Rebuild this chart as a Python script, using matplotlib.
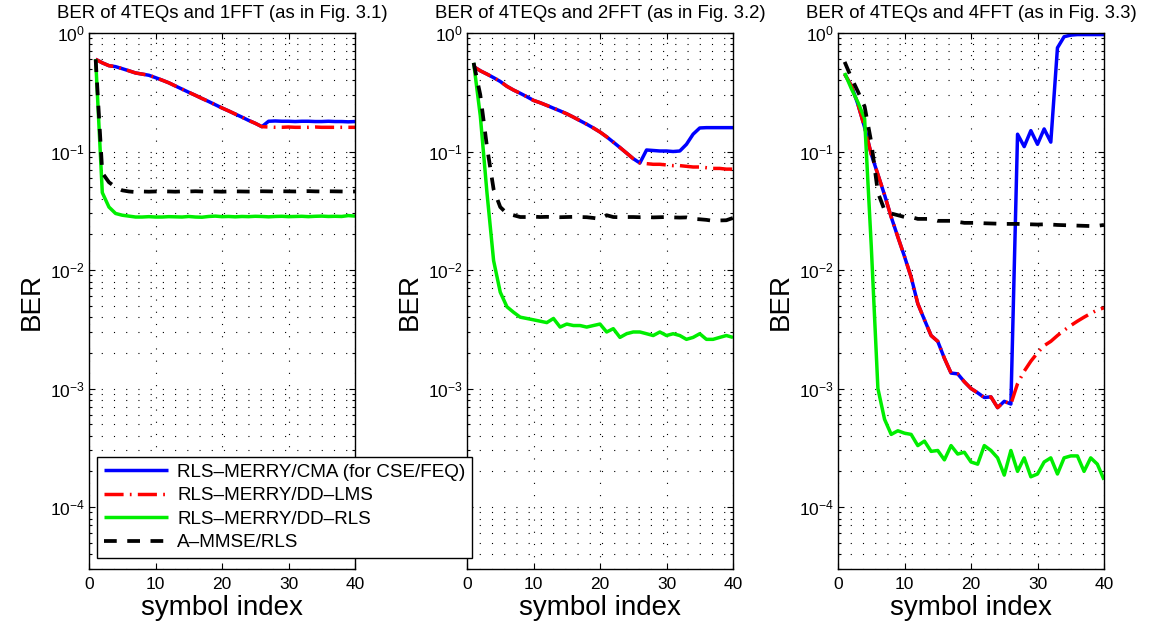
import matplotlib
matplotlib.use("Agg")
import matplotlib.pyplot as plt
import numpy as np
from matplotlib.lines import Line2D
from matplotlib.ticker import LogLocator, NullFormatter, FixedLocator

plt.rcParams["font.family"] = ["Liberation Sans", "DejaVu Sans"]

symbols = np.arange(1, 41)

titles = [
    "BER of 4TEQs and 1FFT (as in Fig. 3.1)",
    "BER of 4TEQs and 2FFT (as in Fig. 3.2)",
    "BER of 4TEQs and 4FFT (as in Fig. 3.3)",
]
labels = [
    "RLS\u2013MERRY/CMA (for CSE/FEQ)",
    "RLS\u2013MERRY/DD\u2013LMS",
    "RLS\u2013MERRY/DD\u2013RLS",
    "A\u2013MMSE/RLS",
]

# ---- panel 1 : 1FFT ----
shared1 = [0.60, 0.56, 0.53, 0.52, 0.50, 0.48, 0.46, 0.45, 0.44, 0.42,
           0.40, 0.38, 0.357, 0.336, 0.316, 0.298, 0.28, 0.264, 0.248, 0.233,
           0.22, 0.207, 0.195, 0.183, 0.173, 0.162]
cma1 = shared1 + [0.180, 0.181, 0.180, 0.180, 0.179, 0.180, 0.180, 0.179,
                  0.179, 0.180, 0.179, 0.179, 0.178, 0.179]
lms1 = shared1 + [0.161, 0.160, 0.160, 0.161, 0.160, 0.160, 0.160, 0.161,
                  0.160, 0.160, 0.160, 0.160, 0.160, 0.160]
rls1 = [0.60, 0.045, 0.034, 0.030, 0.029, 0.0285, 0.028, 0.028, 0.0282, 0.028,
        0.028, 0.0282, 0.0281, 0.028, 0.0283, 0.028, 0.0279, 0.0283, 0.0285, 0.0282,
        0.0283, 0.0281, 0.0283, 0.0282, 0.0284, 0.0283, 0.0281, 0.0283, 0.0284, 0.0282,
        0.0283, 0.0284, 0.0282, 0.0284, 0.0285, 0.0283, 0.0284, 0.0283, 0.0288, 0.0285]
mmse1 = [0.60, 0.066, 0.055, 0.050, 0.047, 0.046, 0.0455, 0.046, 0.0458, 0.046,
         0.0462, 0.046, 0.0458, 0.0461, 0.046, 0.0462, 0.046, 0.0459, 0.046, 0.0458,
         0.046, 0.0461, 0.046, 0.0459, 0.046, 0.0462, 0.0461, 0.046, 0.0462, 0.0461,
         0.046, 0.0462, 0.0463, 0.0461, 0.046, 0.0462, 0.0461, 0.046, 0.0459, 0.046]

# ---- panel 2 : 2FFT ----
shared2 = [0.52, 0.48, 0.45, 0.42, 0.39, 0.355, 0.33, 0.31, 0.29, 0.27,
           0.258, 0.245, 0.232, 0.22, 0.208, 0.195, 0.182, 0.17, 0.158, 0.146,
           0.133, 0.12, 0.108, 0.097, 0.087, 0.080]
cma2 = shared2 + [0.103, 0.102, 0.101, 0.101, 0.100, 0.101, 0.115, 0.14,
                  0.158, 0.159, 0.159, 0.159, 0.159, 0.159]
lms2 = shared2 + [0.079, 0.078, 0.078, 0.077, 0.076, 0.076, 0.075, 0.074,
                  0.074, 0.073, 0.072, 0.072, 0.071, 0.071]
rls2 = [0.56, 0.20, 0.045, 0.012, 0.0065, 0.0049, 0.0044, 0.0040, 0.0039, 0.0038,
        0.0037, 0.0036, 0.0039, 0.0033, 0.0035, 0.0034, 0.0034, 0.0033, 0.0034, 0.0035,
        0.0030, 0.0032, 0.0027, 0.0029, 0.0030, 0.0030, 0.0029, 0.0028, 0.0030, 0.0028,
        0.0029, 0.0028, 0.0026, 0.0027, 0.0029, 0.0026, 0.0026, 0.0027, 0.0028, 0.0027]
mmse2 = [0.56, 0.30, 0.11, 0.048, 0.034, 0.030, 0.029, 0.028, 0.028, 0.0282,
         0.028, 0.0281, 0.028, 0.0279, 0.028, 0.0281, 0.028, 0.0279, 0.0275, 0.027,
         0.029, 0.028, 0.0279, 0.028, 0.028, 0.0279, 0.028, 0.0278, 0.0279, 0.028,
         0.0278, 0.0277, 0.0278, 0.027, 0.0268, 0.0265, 0.026, 0.0262, 0.0263, 0.0275]

# ---- panel 3 : 4FFT ----
shared3 = [0.45, 0.36, 0.25, 0.16, 0.095, 0.064, 0.043, 0.028, 0.019, 0.013,
           0.0087, 0.0052, 0.0038, 0.0028, 0.0025, 0.0018, 0.00135, 0.00133, 0.00114, 0.0010,
           0.00092, 0.00084, 0.00085, 0.00069, 0.00078, 0.00074]
cma3 = shared3 + [0.14, 0.11, 0.15, 0.115, 0.155, 0.12, 0.75, 0.93,
                  0.96, 0.97, 0.97, 0.97, 0.97, 0.97]
lms3 = shared3 + [0.0011, 0.0014, 0.0017, 0.0020, 0.0023, 0.0025, 0.0028, 0.0031,
                  0.0034, 0.0037, 0.0040, 0.0043, 0.0046, 0.0048]
rls3 = [0.46, 0.34, 0.26, 0.19, 0.016, 0.0010, 0.00055, 0.00041, 0.00044, 0.00042,
        0.00041, 0.00033, 0.00036, 0.000295, 0.00030, 0.00025, 0.00033, 0.00028, 0.00029, 0.00024,
        0.00023, 0.00033, 0.00030, 0.00026, 0.000186, 0.00030, 0.00020, 0.00026, 0.00018, 0.00019,
        0.00024, 0.00026, 0.00019, 0.00026, 0.00027, 0.00027, 0.00020, 0.00026, 0.00023, 0.00017]
mmse3 = [0.57, 0.42, 0.32, 0.24, 0.12, 0.045, 0.032, 0.030, 0.029, 0.028,
         0.028, 0.027, 0.027, 0.027, 0.026, 0.026, 0.026, 0.0255, 0.025, 0.025,
         0.025, 0.0248, 0.0247, 0.0246, 0.0245, 0.0245, 0.0245, 0.0244, 0.0243, 0.0242,
         0.0243, 0.0242, 0.024, 0.0239, 0.0238, 0.0237, 0.0236, 0.0235, 0.0236, 0.024]

panels = [
    (cma1, lms1, rls1, mmse1),
    (cma2, lms2, rls2, mmse2),
    (cma3, lms3, rls3, mmse3),
]

W, H = 1149, 635
fig = plt.figure(figsize=(W / 100, H / 100), dpi=100)
fig.patch.set_facecolor("white")

lefts_px = [89, 467, 838]
width_px = 266
top_px, bottom_px = 33, 569

styles = [
    dict(color="#0000ff", lw=2.5, linestyle="-"),
    dict(color="#ff0000", lw=2.5, linestyle=(0, (5.5, 1.8, 0.5, 1.8))),
    dict(color="#00ee00", lw=2.5, linestyle="-"),
    dict(color="#000000", lw=2.7, linestyle=(0, (3.4, 2.8))),
]

grid_dots = (0, (1, 10))

for k, (left_px, series) in enumerate(zip(lefts_px, panels)):
    ax = fig.add_axes([left_px / W, 1 - bottom_px / H,
                       width_px / W, (bottom_px - top_px) / H])
    for vals, st in zip(series, styles):
        ax.plot(symbols, vals, solid_capstyle="butt", dash_capstyle="butt", **st)

    ax.set_yscale("log")
    ax.set_xlim(0, 40)
    ax.set_ylim(3e-5, 1)
    ax.xaxis.set_major_locator(FixedLocator([0, 10, 20, 30, 40]))
    ax.yaxis.set_major_locator(LogLocator(base=10, numticks=10))
    ax.yaxis.set_minor_locator(LogLocator(base=10, subs=np.arange(2, 10), numticks=20))
    ax.yaxis.set_minor_formatter(NullFormatter())

    ax.grid(True, which="major", axis="both", color="black", lw=0.8, linestyle=grid_dots)
    ax.grid(True, which="minor", axis="y", color="black", lw=0.8, linestyle=grid_dots)
    ax.set_axisbelow(True)

    ax.tick_params(which="both", direction="in", top=True, right=True,
                   labelsize=12.5, width=0.8)
    ax.tick_params(which="major", length=4.5)
    ax.tick_params(which="minor", length=2.5)
    ax.tick_params(axis="x", pad=6)
    ax.tick_params(axis="y", pad=3)
    for sp in ax.spines.values():
        sp.set_color("black")
        sp.set_linewidth(1.0)

    ax.set_title(titles[k], fontsize=13.4, pad=10.5)
    ax.set_xlabel("symbol index", fontsize=20, labelpad=2)
    ax.set_ylabel("BER", fontsize=20, labelpad=4)

handles = [Line2D([], [], solid_capstyle="butt", dash_capstyle="butt", **st) for st in styles]
leg = fig.legend(handles, labels, loc="lower left",
                 bbox_to_anchor=(97 / W, 1 - 558 / H), bbox_transform=fig.transFigure,
                 borderaxespad=0, fontsize=13.6, frameon=True, fancybox=False,
                 edgecolor="black", framealpha=1, handlelength=3.4, handletextpad=0.5,
                 borderpad=0.35, labelspacing=0.33)
leg.get_frame().set_linewidth(1.0)

fig.savefig("out.png", dpi=100, facecolor="white")
